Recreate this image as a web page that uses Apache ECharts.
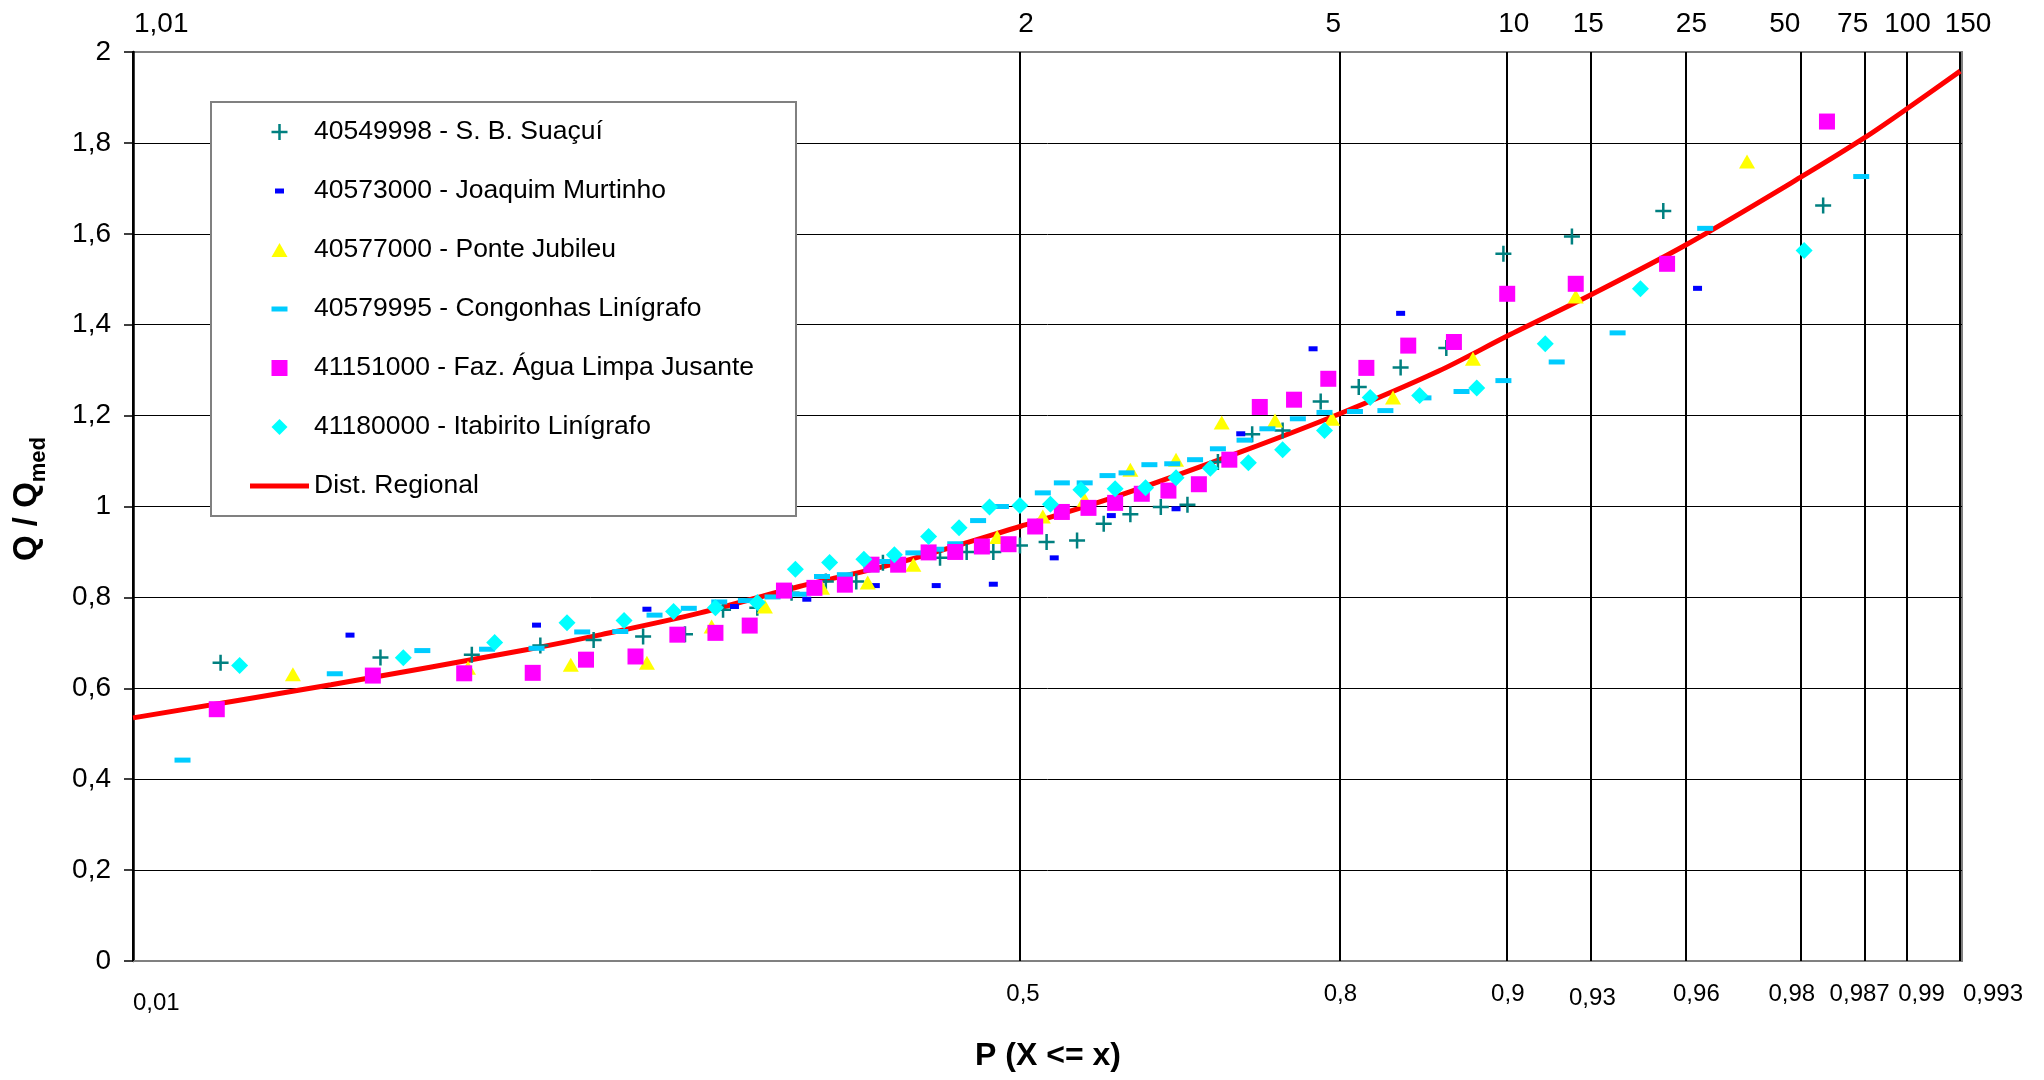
<!DOCTYPE html>
<html>
<head>
<meta charset="utf-8">
<script src="https://cdn.jsdelivr.net/npm/echarts@6/dist/echarts.min.js"></script>
<style>
html,body{margin:0;padding:0;background:#fff;}
#chart{width:2044px;height:1080px;}
</style>
</head>
<body>
<div id="chart"></div>
<script>
// ---------- axis definition (probability paper) ----------
const returnPeriods = [1.01, 2, 5, 10, 15, 25, 50, 75, 100, 150];
const returnPeriodLabels = ['1,01', '2', '5', '10', '15', '25', '50', '75', '100', '150'];
const probabilityLabels = ['0,01', '0,5', '0,8', '0,9', '0,93', '0,96', '0,98', '0,987', '0,99', '0,993'];

// ---------- data: x = standard normal variate, y = Q / Qmed ----------
const suacuiZ = [-2.10,-1.68,-1.44,-1.26,-1.12,-0.99,-0.88,-0.78,-0.69,-0.60,-0.51,-0.43,-0.36,-0.21,-0.14,-0.07,0.00,0.07,0.15,0.22,0.29,0.37,0.44,0.52,0.61,0.69,0.79,0.89,1.00,1.12,1.27,1.45,1.69,2.11];
const suacuiQ = [0.656,0.668,0.674,0.694,0.706,0.714,0.719,0.773,0.777,0.810,0.835,0.835,0.876,0.887,0.900,0.900,0.914,0.922,0.925,0.962,0.983,0.999,1.004,1.098,1.159,1.167,1.231,1.263,1.306,1.349,1.556,1.594,1.650,1.662];

const murtinhoZ = [-1.76,-1.27,-0.98,-0.75,-0.56,-0.38,-0.22,-0.07,0.09,0.24,0.41,0.58,0.77,1.00,1.78];
const murtinhoQ = [0.717,0.739,0.774,0.780,0.796,0.826,0.826,0.829,0.887,0.980,0.995,1.160,1.347,1.425,1.480];

const jubileuZ = [-1.91,-1.45,-1.18,-0.98,-0.81,-0.67,-0.52,-0.40,-0.28,-0.06,0.06,0.17,0.29,0.41,0.53,0.67,0.82,0.98,1.19,1.46,1.91];
const jubileuQ = [0.631,0.645,0.652,0.656,0.736,0.780,0.821,0.833,0.872,0.933,0.978,1.015,1.081,1.103,1.185,1.189,1.193,1.240,1.325,1.462,1.759];

const congonhasZ = [-2.20,-1.80,-1.57,-1.40,-1.27,-1.15,-1.05,-0.96,-0.87,-0.79,-0.72,-0.65,-0.58,-0.52,-0.46,-0.39,-0.35,-0.28,-0.22,-0.17,-0.11,-0.05,0.06,0.11,0.17,0.23,0.28,0.34,0.40,0.46,0.52,0.59,0.65,0.73,0.80,0.88,0.96,1.06,1.16,1.27,1.41,1.57,1.80,2.21];
const congonhasQ = [0.442,0.632,0.683,0.686,0.688,0.724,0.725,0.761,0.776,0.790,0.793,0.801,0.807,0.846,0.850,0.861,0.879,0.898,0.906,0.918,0.969,1.000,1.030,1.052,1.052,1.068,1.074,1.092,1.094,1.103,1.127,1.146,1.171,1.193,1.207,1.209,1.211,1.239,1.253,1.277,1.318,1.382,1.612,1.726];

const aguaLimpaZ = [-2.11,-1.70,-1.46,-1.28,-1.14,-1.01,-0.90,-0.80,-0.71,-0.62,-0.54,-0.46,-0.39,-0.32,-0.24,-0.17,-0.10,-0.03,0.04,0.11,0.18,0.25,0.32,0.39,0.47,0.55,0.63,0.72,0.81,0.91,1.02,1.14,1.28,1.46,1.70,2.12];
const aguaLimpaQ = [0.554,0.628,0.633,0.634,0.663,0.670,0.718,0.722,0.738,0.815,0.821,0.828,0.872,0.872,0.899,0.900,0.912,0.917,0.956,0.988,0.997,1.008,1.028,1.035,1.049,1.103,1.219,1.235,1.281,1.305,1.354,1.362,1.468,1.490,1.534,1.847];

const itabiritoZ = [-2.05,-1.62,-1.38,-1.19,-1.04,-0.91,-0.80,-0.69,-0.59,-0.50,-0.41,-0.33,-0.24,-0.16,-0.08,0.00,0.08,0.16,0.25,0.33,0.41,0.50,0.60,0.69,0.80,0.92,1.05,1.20,1.38,1.63,2.06];
const itabiritoQ = [0.650,0.667,0.701,0.744,0.749,0.769,0.777,0.789,0.862,0.877,0.884,0.894,0.934,0.953,0.999,1.002,1.005,1.037,1.039,1.041,1.063,1.084,1.096,1.125,1.167,1.240,1.244,1.261,1.358,1.479,1.563];

const regionalZ = [-2.33,-1.81,-1.29,-1.10,-0.84,-0.58,-0.32,0.00,0.25,0.58,0.84,1.10,1.28,1.50,1.75,2.05,2.22,2.33,2.47];
const regionalQ = [0.535,0.608,0.686,0.718,0.766,0.824,0.876,0.956,1.021,1.120,1.204,1.298,1.375,1.466,1.576,1.724,1.812,1.875,1.958];

const seriesNames = [
  '40549998 - S. B. Suaçuí',
  '40573000 - Joaquim Murtinho',
  '40577000 - Ponte Jubileu',
  '40579995 - Congonhas Linígrafo',
  '41151000 - Faz. Água Limpa Jusante',
  '41180000 - Itabirito Linígrafo',
  'Dist. Regional'
];

// ---------- layout / style (not data) ----------
const FONT = '"Liberation Sans", Arial, sans-serif';
const topLabelDx = [0, 6, -7, 6, -3, 5, -17, -11, 2, 6];
const bottomLabelDx = [0, 3, 0, 0, 1, 10, -10, -4, 16, 31];
const bottomLabelY = [1003, 994, 994, 994, 998, 994, 994, 994, 994, 994];

// inverse standard normal CDF (Acklam) – the probability-paper scale
function normInv(p) {
  const a = [-3.969683028665376e+01, 2.209460984245205e+02, -2.759285104469687e+02, 1.383577518672690e+02, -3.066479806614716e+01, 2.506628277459239e+00];
  const b = [-5.447609879822406e+01, 1.615858368580409e+02, -1.556989798598866e+02, 6.680131188771972e+01, -1.328068155288572e+01];
  const c = [-7.784894002430293e-03, -3.223964580411365e-01, -2.400758277161838e+00, -2.549732539343734e+00, 4.374664141464968e+00, 2.938163982698783e+00];
  const d = [7.784695709041462e-03, 3.224671290700398e-01, 2.445134137142996e+00, 3.754408661907416e+00];
  const pl = 0.02425, ph = 1 - pl;
  let q, r;
  if (p < pl) {
    q = Math.sqrt(-2 * Math.log(p));
    return (((((c[0]*q+c[1])*q+c[2])*q+c[3])*q+c[4])*q+c[5]) / ((((d[0]*q+d[1])*q+d[2])*q+d[3])*q+1);
  }
  if (p <= ph) {
    q = p - 0.5; r = q * q;
    return (((((a[0]*r+a[1])*r+a[2])*r+a[3])*r+a[4])*r+a[5])*q / (((((b[0]*r+b[1])*r+b[2])*r+b[3])*r+b[4])*r+1);
  }
  q = Math.sqrt(-2 * Math.log(1 - p));
  return -(((((c[0]*q+c[1])*q+c[2])*q+c[3])*q+c[4])*q+c[5]) / ((((d[0]*q+d[1])*q+d[2])*q+d[3])*q+1);
}
const zOfT = T => normInv(1 - 1 / T);
const gridZ = returnPeriods.map(zOfT);
const zMin = gridZ[0];
const zMax = gridZ[gridZ.length - 1];

const zip = (xs, ys) => xs.map((x, i) => [x, ys[i]]);

// marker shapes (16x16 boxes so that legend icons keep their proportions)
const PLUS = 'path://M6.75,0h2.5v6.75h6.75v2.5h-6.75v6.75h-2.5v-6.75h-6.75v-2.5h6.75z';
const SMALL_DASH = 'path://M0,0M16,16M3.5,5.5h9v5h-9z';
const LONG_DASH = 'path://M0,0M16,16M0,5.5h16v5h-16z';
const TRIANGLE = 'path://M0,0M16,16M8,1L16,15L0,15Z';
const SQUARE = 'path://M0,0h16v16h-16z';
const DIAMOND = 'path://M8,0L16,8L8,16L0,8Z';
const LINE_ICON = 'path://M0,0M59,16M0,5.5h59v5h-59z';

function scatter(name, xs, ys, symbol, size, color, z) {
  return {
    name: name, type: 'scatter', data: zip(xs, ys),
    symbol: symbol, symbolSize: size, z: z, silent: true,
    itemStyle: { color: color, opacity: 1, borderWidth: 0 }
  };
}

const chart = echarts.init(document.getElementById('chart'), null, { renderer: 'canvas' });

const option = {
  animation: false,
  backgroundColor: '#ffffff',
  textStyle: { fontFamily: FONT },
  grid: {
    left: 133, right: 82, top: 52, bottom: 119,
    containLabel: false, outerBoundsMode: 'none',
    show: true, borderColor: '#808080', borderWidth: 2, backgroundColor: 'transparent'
  },
  xAxis: {
    type: 'value', min: zMin, max: zMax,
    axisLine: { show: true, onZero: false, lineStyle: { color: '#808080', width: 2 } },
    axisTick: { show: false }, axisLabel: { show: false }, splitLine: { show: false }
  },
  yAxis: {
    type: 'value', min: 0, max: 2, interval: 0.2,
    axisLine: { show: true, onZero: false, lineStyle: { color: '#000', width: 2.5 } },
    axisTick: { show: true, inside: false, length: 9, lineStyle: { color: '#000', width: 1.5 } },
    axisLabel: {
      margin: 22, fontSize: 28, color: '#000', fontFamily: FONT,
      formatter: v => String(+v.toFixed(1)).replace('.', ',')
    },
    splitLine: { show: true, showMinLine: false, showMaxLine: false, lineStyle: { color: '#000', width: 1 } }
  },
  legend: {
    data: seriesNames.slice(0, 6).concat([{ name: seriesNames[6], icon: LINE_ICON }]),
    orient: 'vertical', left: 211, top: 102,
    padding: [15, 42, 15, 39], itemGap: 29, itemWidth: 59, itemHeight: 16,
    symbolKeepAspect: true,
    backgroundColor: '#fff', borderColor: '#808080', borderWidth: 2, borderRadius: 0,
    selectedMode: false,
    textStyle: { fontSize: 26.5, color: '#000', fontFamily: FONT, lineHeight: 30 }
  },
  series: [
    {
      name: '__grid', type: 'line', data: [], silent: true, z: 1,
      markLine: {
        z: 1, silent: true, symbol: ['none', 'none'], animation: false,
        label: { show: false },
        lineStyle: { color: '#000', width: 2, type: 'solid' },
        emphasis: { disabled: true },
        data: gridZ.map(z => ({ xAxis: z }))
      }
    },
    {
      name: seriesNames[6], type: 'line', data: zip(regionalZ, regionalQ),
      smooth: 0.3, symbol: 'none', showSymbol: false, z: 2, silent: true,
      lineStyle: { color: '#FF0000', width: 5 }, itemStyle: { color: '#FF0000' }
    },
    scatter(seriesNames[0], suacuiZ, suacuiQ, PLUS, 16, '#008080', 3),
    scatter(seriesNames[1], murtinhoZ, murtinhoQ, SMALL_DASH, 16, '#0000FF', 3),
    scatter(seriesNames[2], jubileuZ, jubileuQ, TRIANGLE, 16, '#FFFF00', 3),
    scatter(seriesNames[3], congonhasZ, congonhasQ, LONG_DASH, 16, '#00CCFF', 3),
    scatter(seriesNames[4], aguaLimpaZ, aguaLimpaQ, SQUARE, 16, '#FF00FF', 3),
    scatter(seriesNames[5], itabiritoZ, itabiritoQ, DIAMOND, 17, '#00FFFF', 3)
  ]
};
chart.setOption(option);

// labels of the probability paper, positioned through the x axis scale
const px = z => chart.convertToPixel({ xAxisIndex: 0 }, z);
const graphics = [];
returnPeriodLabels.forEach((t, i) => {
  const first = i === 0;
  graphics.push({
    type: 'text', silent: true,
    x: px(gridZ[i]) + (first ? 1 : topLabelDx[i]), y: 24,
    style: { text: t, fontSize: 28, fontFamily: FONT, fill: '#000', align: first ? 'left' : 'center', verticalAlign: 'middle' }
  });
});
probabilityLabels.forEach((t, i) => {
  const first = i === 0;
  graphics.push({
    type: 'text', silent: true,
    x: px(gridZ[i]) + (first ? 0 : bottomLabelDx[i]), y: bottomLabelY[i],
    style: { text: t, fontSize: 24, fontFamily: FONT, fill: '#000', align: first ? 'left' : 'center', verticalAlign: 'middle' }
  });
});
graphics.push({
  type: 'text', silent: true, x: 1048, y: 1056,
  style: { text: 'P (X <= x)', fontSize: 32, fontWeight: 'bold', fontFamily: FONT, fill: '#000', align: 'center', verticalAlign: 'middle' }
});
graphics.push({
  type: 'text', silent: true, x: 30, y: 499, rotation: Math.PI / 2,
  style: {
    text: '{m|Q / Q}{s|med}', align: 'center', verticalAlign: 'middle',
    rich: {
      m: { fontSize: 33, fontWeight: 'bold', fontFamily: FONT, fill: '#000', color: '#000', verticalAlign: 'bottom', padding: [0, 0, 7, 0] },
      s: { fontSize: 22, fontWeight: 'bold', fontFamily: FONT, fill: '#000', color: '#000', verticalAlign: 'bottom' }
    }
  }
});
chart.setOption({ graphic: graphics });
</script>
</body>
</html>
